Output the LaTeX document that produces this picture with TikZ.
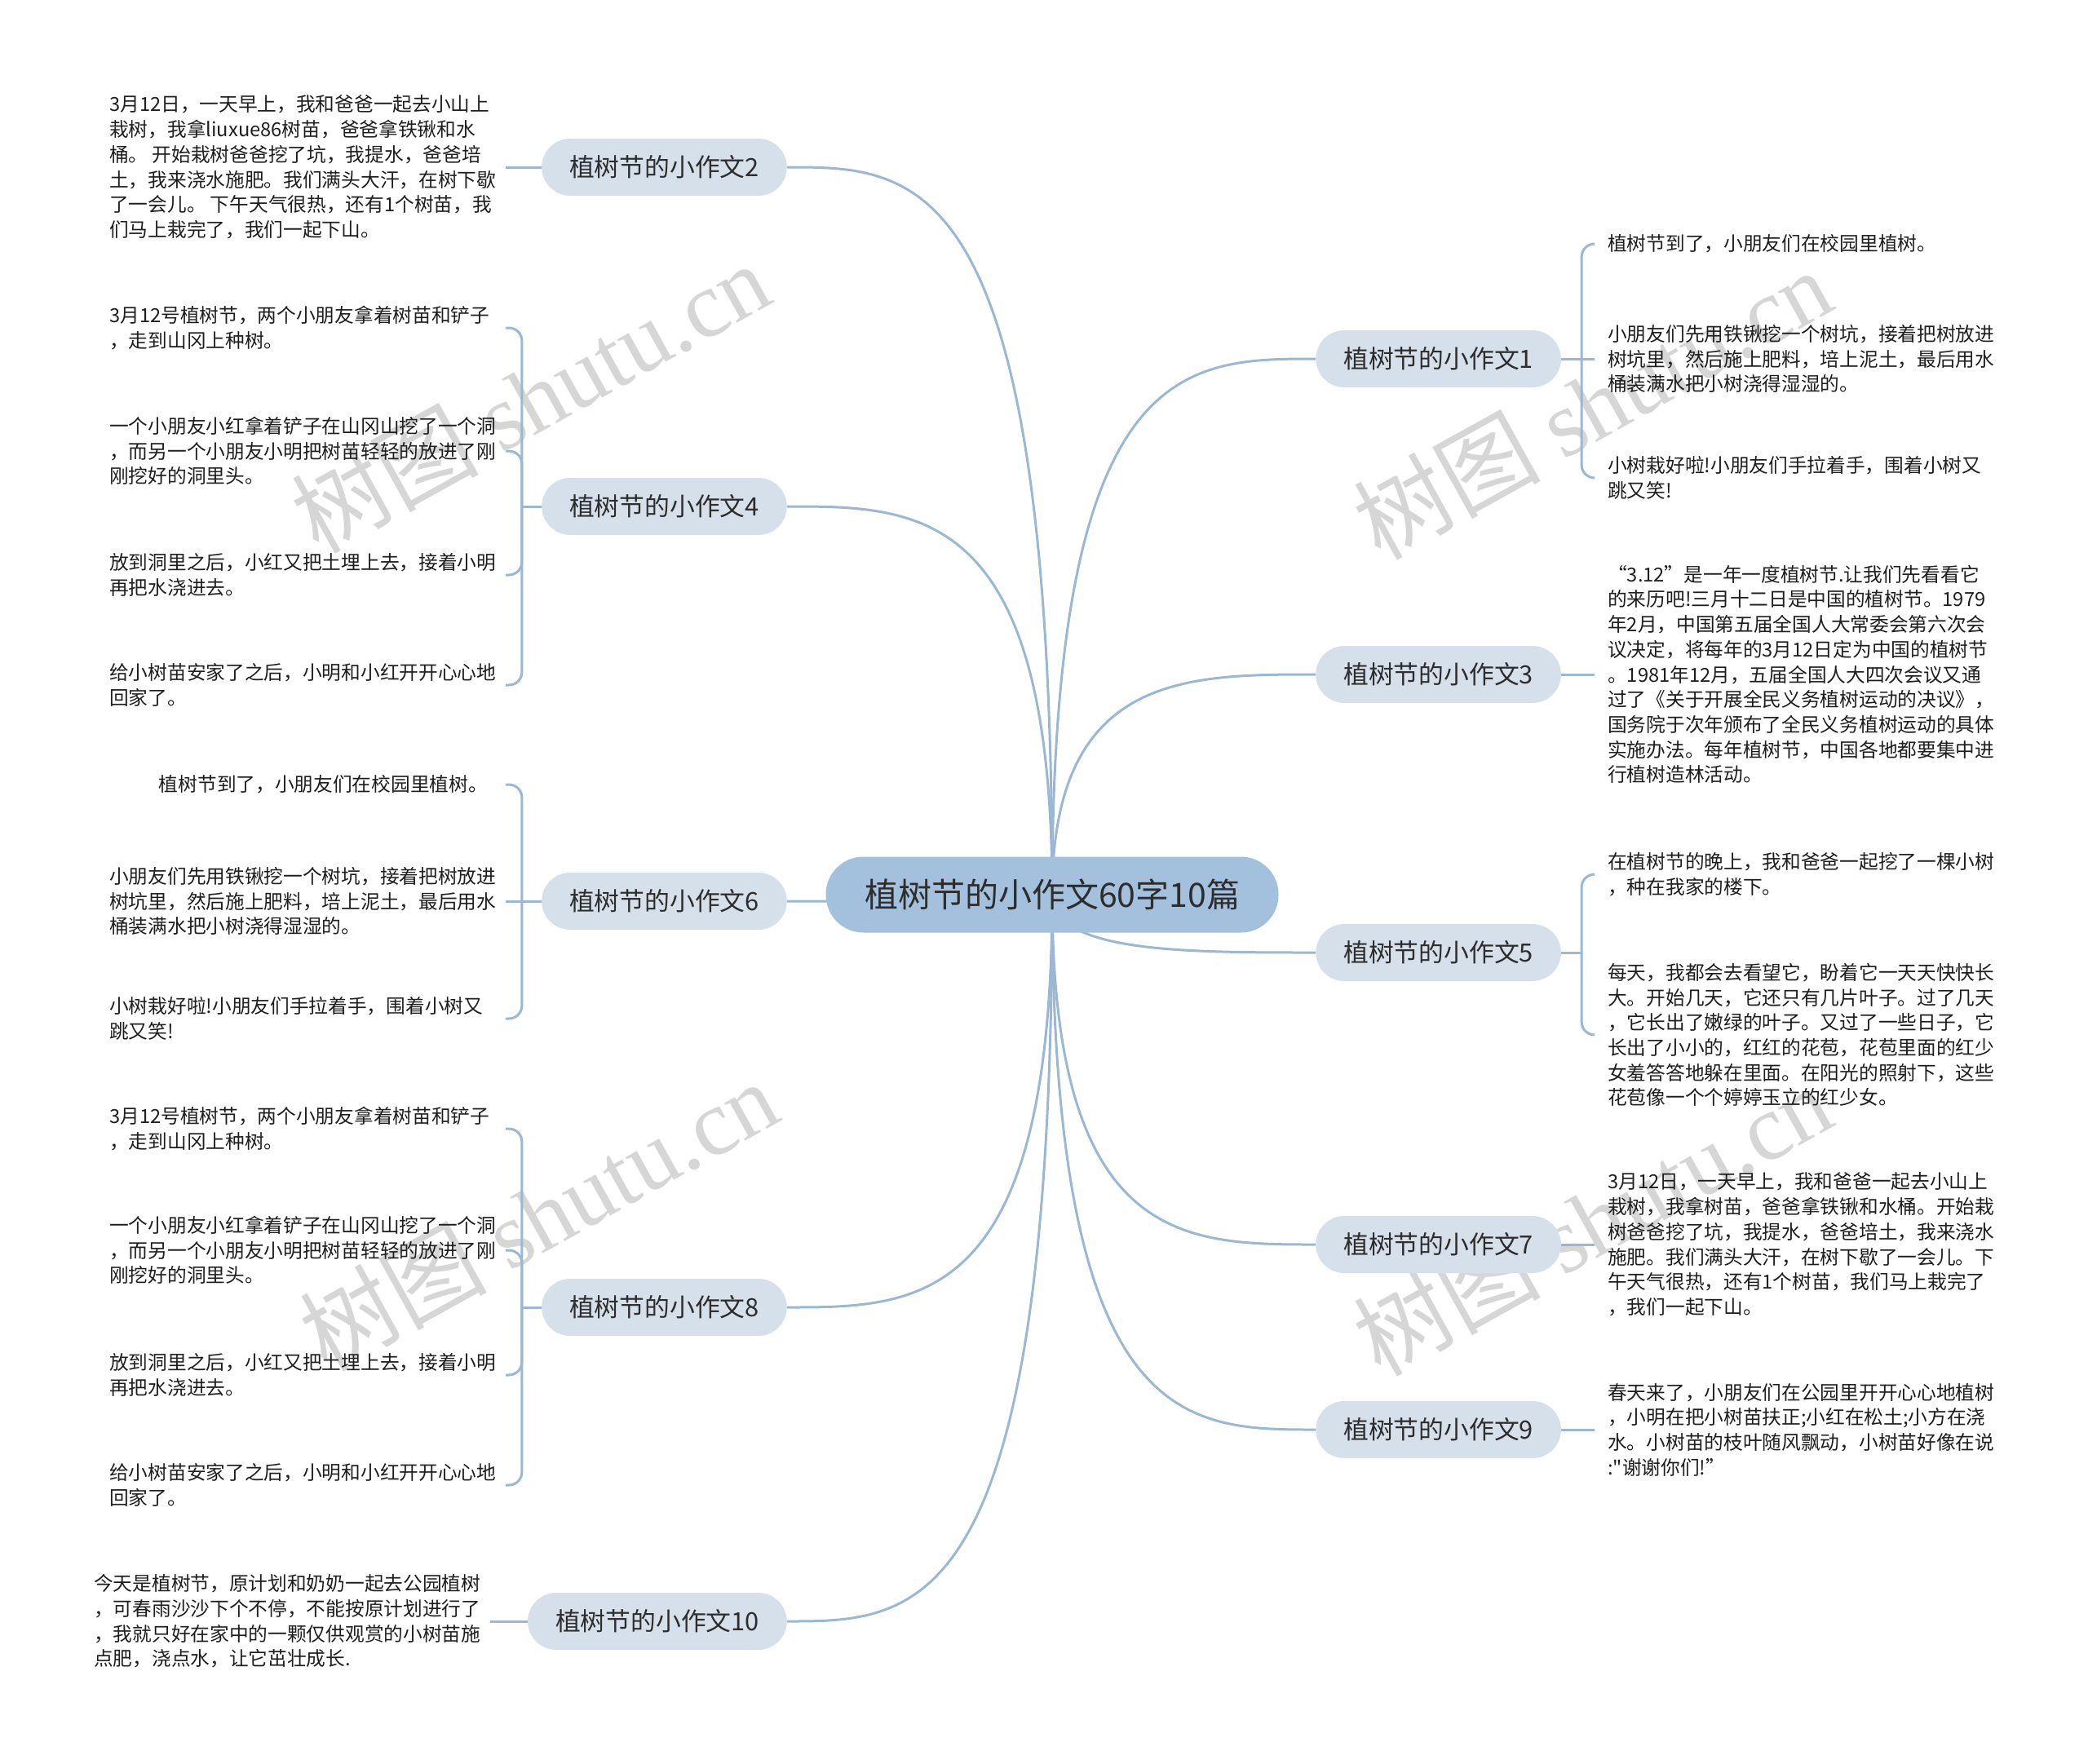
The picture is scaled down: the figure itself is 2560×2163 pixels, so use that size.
\documentclass[tikz,border=0pt]{standalone}
\usepackage{fontspec}
\setmainfont{Noto Sans CJK SC}
\newfontfamily\plainq{Noto Sans CJK SC}
\newfontfamily\wmlatin{Liberation Serif}
\usetikzlibrary{calc}
\pgfdeclarelayer{wm}
\pgfdeclarelayer{background}
\pgfsetlayers{wm,background,main}
\definecolor{linec}{RGB}{154,183,211}
\definecolor{rootc}{RGB}{163,192,220}
\definecolor{topicc}{RGB}{213,224,234}
\definecolor{txtc}{RGB}{45,45,45}
\definecolor{leaftxt}{RGB}{30,30,30}
\definecolor{wmc}{RGB}{214,214,214}
\tikzset{
  rootnode/.style={rounded corners=46pt, fill=rootc, minimum width=555pt, minimum height=93pt, inner sep=0pt,
    font=\fontsize{41}{48}\selectfont, text=txtc},
  topic/.style={rounded corners=35pt, fill=topicc, minimum height=70pt, inner xsep=34pt, inner ysep=0pt,
    font=\fontsize{30.8}{36}\selectfont, text=txtc},
  leafL/.style={anchor=west, align=left, inner sep=0pt, font=\fontsize{23.7}{30.7}\selectfont, text=leaftxt},
  leafLr/.style={anchor=east, align=left, inner sep=0pt, font=\fontsize{23.7}{30.7}\selectfont, text=leaftxt},
  leafR/.style={anchor=west, align=left, inner sep=0pt, font=\fontsize{23.7}{30.7}\selectfont, text=leaftxt},
  conn/.style={draw=linec, line width=3pt},
  brace/.style={draw=linec, line width=3pt, rounded corners=16pt},
  wmark/.style={rotate=29, text=wmc, font=\fontsize{115}{120}\selectfont, inner sep=0pt}
}
\begin{document}
\begin{tikzpicture}[x=1pt,y=-1pt]
\useasboundingbox (0,0) rectangle (2560,2163);

% root and topics
\node[rootnode] (r) at (1290,1097) {植树节的小作文60字10篇};
\node[topic, anchor=east] (t2) at (965,205) {植树节的小作文2};
\node[topic, anchor=east] (t4) at (965,621) {植树节的小作文4};
\node[topic, anchor=east] (t6) at (965,1105) {植树节的小作文6};
\node[topic, anchor=east] (t8) at (965,1603) {植树节的小作文8};
\node[topic, anchor=east] (t10) at (965,1988) {植树节的小作文10};
\node[topic, anchor=west] (t1) at (1613,440) {植树节的小作文1};
\node[topic, anchor=west] (t3) at (1613,827) {植树节的小作文3};
\node[topic, anchor=west] (t5) at (1613,1168) {植树节的小作文5};
\node[topic, anchor=west] (t7) at (1613,1526) {植树节的小作文7};
\node[topic, anchor=west] (t9) at (1613,1753) {植树节的小作文9};

% left leaves
\node[leafL] (l2) at (134,205) {3月12日，一天早上，我和爸爸一起去小山上\\栽树，我拿liuxue86树苗，爸爸拿铁锹和水\\桶。 开始栽树爸爸挖了坑，我提水，爸爸培\\土，我来浇水施肥。我们满头大汗，在树下歇\\了一会儿。 下午天气很热，还有1个树苗，我\\们马上栽完了，我们一起下山。};
\node[leafL] (l4a) at (134,402) {3月12号植树节，两个小朋友拿着树苗和铲子\\，走到山冈上种树。};
\node[leafL] (l4b) at (134,553) {一个小朋友小红拿着铲子在山冈山挖了一个洞\\，而另一个小朋友小明把树苗轻轻的放进了刚\\刚挖好的洞里头。};
\node[leafL] (l4c) at (134,705) {放到洞里之后，小红又把土埋上去，接着小明\\再把水浇进去。};
\node[leafL] (l4d) at (134,840) {给小树苗安家了之后，小明和小红开开心心地\\回家了。};
\node[leafLr] (l6a) at (598,962) {植树节到了，小朋友们在校园里植树。};
\node[leafL] (l6b) at (134,1105) {小朋友们先用铁锹挖一个树坑，接着把树放进\\树坑里，然后施上肥料，培上泥土，最后用水\\桶装满水把小树浇得湿湿的。};
\node[leafL] (l6c) at (134,1249) {小树栽好啦!小朋友们手拉着手，围着小树又\\跳又笑!};
\node[leafL] (l8a) at (134,1384) {3月12号植树节，两个小朋友拿着树苗和铲子\\，走到山冈上种树。};
\node[leafL] (l8b) at (134,1533) {一个小朋友小红拿着铲子在山冈山挖了一个洞\\，而另一个小朋友小明把树苗轻轻的放进了刚\\刚挖好的洞里头。};
\node[leafL] (l8c) at (134,1686) {放到洞里之后，小红又把土埋上去，接着小明\\再把水浇进去。};
\node[leafL] (l8d) at (134,1821) {给小树苗安家了之后，小明和小红开开心心地\\回家了。};
\node[leafL] (l10) at (115,1988) {今天是植树节，原计划和奶奶一起去公园植树\\，可春雨沙沙下个不停，不能按原计划进行了\\，我就只好在家中的一颗仅供观赏的小树苗施\\点肥，浇点水，让它茁壮成长.};

% right leaves
\node[leafR] (l1a) at (1971,299) {植树节到了，小朋友们在校园里植树。};
\node[leafR] (l1b) at (1971,440) {小朋友们先用铁锹挖一个树坑，接着把树放进\\树坑里，然后施上肥料，培上泥土，最后用水\\桶装满水把小树浇得湿湿的。};
\node[leafR] (l1c) at (1971,586) {小树栽好啦!小朋友们手拉着手，围着小树又\\跳又笑!};
\node[leafR] (l3) at (1971,827) {“3.12”是一年一度植树节.让我们先看看它\\的来历吧!三月十二日是中国的植树节。1979\\年2月，中国第五届全国人大常委会第六次会\\议决定，将每年的3月12日定为中国的植树节\\。1981年12月，五届全国人大四次会议又通\\过了《关于开展全民义务植树运动的决议》，\\国务院于次年颁布了全民义务植树运动的具体\\实施办法。每年植树节，中国各地都要集中进\\行植树造林活动。};
\node[leafR] (l5a) at (1971,1072) {在植树节的晚上，我和爸爸一起挖了一棵小树\\，种在我家的楼下。};
\node[leafR] (l5b) at (1971,1269) {每天，我都会去看望它，盼着它一天天快快长\\大。开始几天，它还只有几片叶子。过了几天\\，它长出了嫩绿的叶子。又过了一些日子，它\\长出了小小的，红红的花苞，花苞里面的红少\\女羞答答地躲在里面。在阳光的照射下，这些\\花苞像一个个婷婷玉立的红少女。};
\node[leafR] (l7) at (1971,1526) {3月12日，一天早上，我和爸爸一起去小山上\\栽树，我拿树苗，爸爸拿铁锹和水桶。开始栽\\树爸爸挖了坑，我提水，爸爸培土，我来浇水\\施肥。我们满头大汗，在树下歇了一会儿。下\\午天气很热，还有1个树苗，我们马上栽完了\\，我们一起下山。};
\node[leafR] (l9) at (1971,1753) {春天来了，小朋友们在公园里开开心心地植树\\，小明在把小树苗扶正;小红在松土;小方在浇\\水。小树苗的枝叶随风飘动，小树苗好像在说\\:{\plainq "}谢谢你们!”};

% junctions
\coordinate (j4) at ($(t4.west)+(-24,0)$);
\coordinate (j6) at ($(t6.west)+(-24,0)$);
\coordinate (j8) at ($(t8.west)+(-24,0)$);
\coordinate (j1) at ($(t1.east)+(25,0)$);
\coordinate (j5) at ($(t5.east)+(25,0)$);

\begin{pgfonlayer}{wm}
\node[wmark] (w1) at (650,487) {树图 {\wmlatin shutu.cn}};
\node[wmark] (w2) at (660,1490) {树图 {\wmlatin shutu.cn}};
\node[wmark] (w3) at (1952,495) {树图 {\wmlatin shutu.cn}};
\node[wmark] (w4) at (1952,1496) {树图 {\wmlatin shutu.cn}};
\end{pgfonlayer}

\begin{pgfonlayer}{background}
% root to topics
\foreach \t in {t2,t4,t6,t8,t10}{
  \draw[conn] (r.center) .. controls (r.center |- \t.east) and ($(r.center |- \t.east)!0.5!(\t.east)$) .. (\t.east);
}
\foreach \t in {t1,t3,t5,t7,t9}{
  \draw[conn] (r.center) .. controls (r.center |- \t.west) and ($(r.center |- \t.west)!0.5!(\t.west)$) .. (\t.west);
}
% single leaves
\draw[conn] (t2.west) -- ($(l2.west)+(486,0)$);
\draw[conn] (t10.west) -- ($(l10.west)+(486,0)$);
\draw[conn] (t3.east) -- ($(l3.west)+(-16,0)$);
\draw[conn] (t7.east) -- ($(l7.west)+(-16,0)$);
\draw[conn] (t9.east) -- ($(l9.west)+(-16,0)$);
% left braces
\draw[conn] (t4.west) -- (j4);
\foreach \l in {l4a,l4b,l4c,l4d}{ \draw[brace] (j4) |- ($(\l.west)+(486,0)$); }
\draw[conn] (t6.west) -- (j6) -- ($(l6b.west)+(486,0)$);
\draw[brace] (j6) |- ($(l6a.east)+(22,0)$);
\draw[brace] (j6) |- ($(l6c.west)+(486,0)$);
\draw[conn] (t8.west) -- (j8);
\foreach \l in {l8a,l8b,l8c,l8d}{ \draw[brace] (j8) |- ($(\l.west)+(486,0)$); }
% right braces
\draw[conn] (t1.east) -- (j1) -- ($(l1b.west)+(-16,0)$);
\foreach \l in {l1a,l1c}{ \draw[brace] (j1) |- ($(\l.west)+(-16,0)$); }
\draw[conn] (t5.east) -- (j5);
\foreach \l in {l5a,l5b}{ \draw[brace] (j5) |- ($(\l.west)+(-16,0)$); }
\end{pgfonlayer}
\end{tikzpicture}
\end{document}
